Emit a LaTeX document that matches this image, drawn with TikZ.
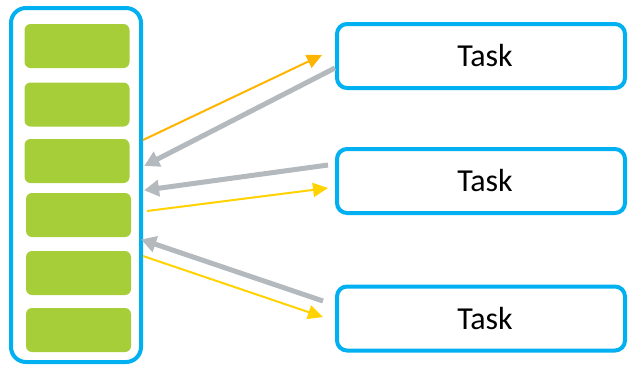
\documentclass[tikz,border=0pt]{standalone}
\usepackage{fontspec}
\setmainfont{Carlito}
\usetikzlibrary{arrows.meta}
\definecolor{boxblue}{HTML}{00B0F0}
\definecolor{slotgreen}{HTML}{A6CE39}
\definecolor{sendorange}{HTML}{FFB400}
\definecolor{sendyellow}{HTML}{FFD200}
\definecolor{replygray}{HTML}{B3B9BD}
\tikzset{
  container/.style={draw=boxblue, line width=4pt, rounded corners=15pt,
    minimum width=130pt, minimum height=354pt, inner sep=0pt},
  slot/.style={fill=slotgreen, rounded corners=6pt, minimum width=105pt,
    minimum height=44pt, inner sep=0pt},
  taskbox/.style={draw=boxblue, line width=4pt, rounded corners=10pt,
    minimum width=288pt, minimum height=64pt, inner sep=0pt,
    font=\fontsize{32pt}{36pt}\selectfont},
  send/.style={line width=2pt, -{Triangle[length=15pt,width=14pt]}},
  reply/.style={draw=replygray, line width=5pt,
    -{Triangle[length=15pt,width=16pt]}, shorten >=-2pt},
}
\begin{document}
\begin{tikzpicture}[x=1pt,y=-1pt]
\useasboundingbox (0,0) rectangle (628,365);

% queue with its six slots
\node[container] (queue) at (76,185) {};
\node[slot] (s1) at (77,46) {};
\node[slot] (s2) at (77,104.5) {};
\node[slot] (s3) at (77,161) {};
\node[slot] (s4) at (78.5,215) {};
\node[slot] (s5) at (78.5,273) {};
\node[slot] (s6) at (78.5,330) {};

% tasks
\node[taskbox] (t1) at (481,56) {\hspace*{8pt}Task};
\node[taskbox] (t2) at (481,181) {\hspace*{8pt}Task};
\node[taskbox] (t3) at (481,318.5) {\hspace*{8pt}Task};

% arrow end points
\coordinate (q1) at (143,140);
\coordinate (q2) at (146,165);
\coordinate (q3) at (146,190);
\coordinate (q4) at (147,211);
\coordinate (q5) at (143,240);
\coordinate (q6) at (143,256);
\coordinate (a1) at (322,55);
\coordinate (b1) at (335,68);
\coordinate (b2) at (328,165);
\coordinate (a2) at (328,188);
\coordinate (b3) at (323,301);
\coordinate (a3) at (323,317);

% traffic between queue and tasks
\draw[send, sendorange] (q1) -- (a1);
\draw[reply] (b1) -- (q2);
\draw[reply] (b2) -- (q3);
\draw[send, sendyellow] (q4) -- (a2);
\draw[reply] (b3) -- (q5);
\draw[send, sendyellow] (q6) -- (a3);
\end{tikzpicture}
\end{document}
